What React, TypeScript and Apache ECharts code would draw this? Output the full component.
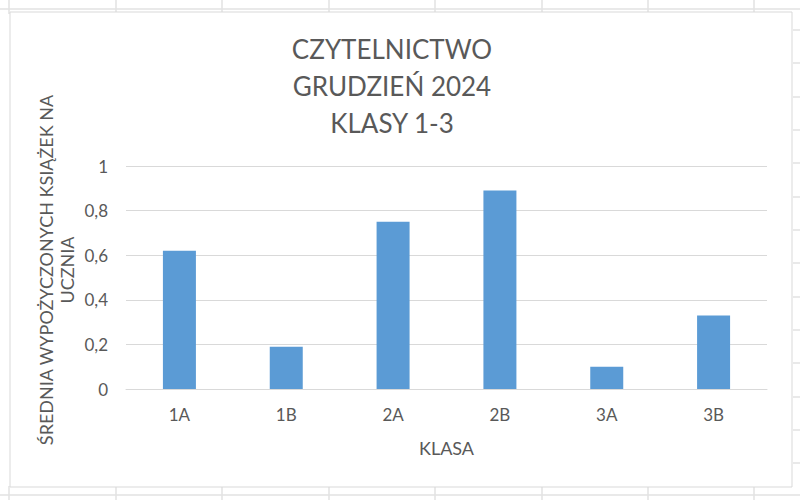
import React, { useEffect, useRef } from "react";
import * as echarts from "echarts";

const categories = ["1A", "1B", "2A", "2B", "3A", "3B"];
const values = [0.62, 0.19, 0.75, 0.89, 0.1, 0.33];
const yTicks = [0, 0.2, 0.4, 0.6, 0.8, 1];
const titleLines = ["CZYTELNICTWO", "GRUDZIEŃ 2024", "KLASY 1-3"];
const yAxisTitle = ["ŚREDNIA WYPOŻYCZONYCH KSIĄŻEK NA", "UCZNIA"];
const xAxisTitle = "KLASA";

const sheetCols = [9, 116, 222, 329, 435, 542, 648, 754];
const sheetRows = [30, 63, 97, 130, 163, 197, 230, 263, 297, 330, 363, 397, 430, 463];

const FONT = "Lato, 'Open Sans', sans-serif";
const TEXT = "#595959";
const LINE = "#d9d9d9";
const SHEET = "#e2e2e2";

export default function App() {
  const ref = useRef<HTMLDivElement>(null);
  useEffect(() => {
    if (!ref.current) return;
    const chart = echarts.init(ref.current, null, { renderer: "svg" });

    const bg: any[] = [];
    bg.push({ type: "line", z: -100, shape: { x1: 0, y1: 9, x2: 800, y2: 9 }, style: { stroke: SHEET, lineWidth: 1.5 } });
    bg.push({ type: "line", z: -100, shape: { x1: 0, y1: 495, x2: 800, y2: 495 }, style: { stroke: SHEET, lineWidth: 1.5 } });
    sheetCols.forEach((x) => {
      bg.push({ type: "line", z: -100, shape: { x1: x, y1: 0, x2: x, y2: 14 }, style: { stroke: SHEET, lineWidth: 1.5 } });
      bg.push({ type: "line", z: -100, shape: { x1: x, y1: 486, x2: x, y2: 500 }, style: { stroke: SHEET, lineWidth: 1.5 } });
    });
    sheetRows.forEach((y) => {
      bg.push({ type: "line", z: -100, shape: { x1: 793, y1: y, x2: 800, y2: y }, style: { stroke: SHEET, lineWidth: 1.5 } });
    });
    bg.push({
      type: "rect",
      z: -90,
      shape: { x: 10, y: 12, width: 782, height: 475 },
      style: { fill: "#ffffff", stroke: LINE, lineWidth: 1 },
    });
    bg.push({
      type: "text",
      z: 10,
      x: 392,
      y: 30,
      style: {
        text: titleLines.join("\n"),
        font: `26px ${FONT}`,
        fill: TEXT,
        align: "center",
        verticalAlign: "top",
        lineHeight: 37,
      },
    });
    bg.push({
      type: "text",
      z: 10,
      x: 56,
      y: 270,
      rotation: Math.PI / 2,
      style: {
        text: yAxisTitle.join("\n"),
        font: `18px ${FONT}`,
        fill: TEXT,
        align: "center",
        verticalAlign: "middle",
        lineHeight: 21,
      },
    });

    chart.setOption({
      animation: false,
      backgroundColor: "#ffffff",
      grid: { left: 126, right: 33, top: 166, bottom: 111, containLabel: false },
      graphic: bg,
      xAxis: {
        type: "category",
        data: categories,
        axisLine: { show: true, lineStyle: { color: LINE, width: 1 } },
        axisTick: { show: false },
        axisLabel: { color: TEXT, fontSize: 17, fontFamily: FONT, margin: 17 },
        name: xAxisTitle,
        nameLocation: "middle",
        nameGap: 50,
        nameTextStyle: { color: TEXT, fontSize: 18, fontFamily: FONT },
      },
      yAxis: {
        type: "value",
        min: yTicks[0],
        max: yTicks[yTicks.length - 1],
        interval: 0.2,
        axisLine: { show: false },
        axisTick: { show: false },
        splitLine: { lineStyle: { color: LINE, width: 1 } },
        axisLabel: {
          color: TEXT,
          fontSize: 17,
          fontFamily: FONT,
          margin: 18,
          formatter: (v: number) => String(Math.round(v * 10) / 10).replace(".", ","),
        },
      },
      series: [
        {
          type: "bar",
          data: values,
          barWidth: 33,
          itemStyle: { color: "#5B9BD5" },
        },
      ],
    });
    return () => chart.dispose();
  }, []);
  return (
    <div
      ref={ref}
      style={{ position: "fixed", left: 0, top: 0, width: 800, height: 500 }}
    />
  );
}
